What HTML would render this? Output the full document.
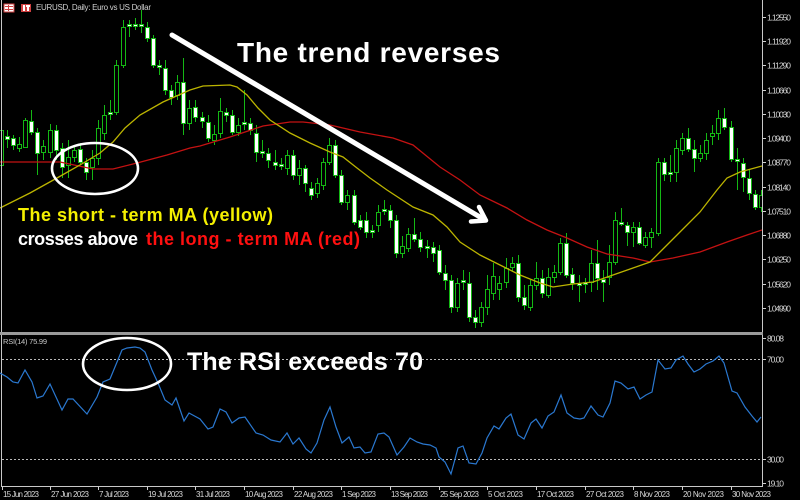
<!DOCTYPE html>
<html><head><meta charset="utf-8">
<style>
html,body{margin:0;padding:0;background:#000;width:800px;height:500px;overflow:hidden}
svg{display:block}
text{font-family:"Liberation Sans",sans-serif}
</style></head><body>
<svg id="c" width="800" height="500" viewBox="0 0 800 500" xmlns="http://www.w3.org/2000/svg">
<defs>
<clipPath id="mainClip"><rect x="0" y="0" width="762" height="332"/></clipPath>
<clipPath id="rsiClip"><rect x="0" y="335" width="762" height="151"/></clipPath>
</defs>
<rect width="800" height="500" fill="#000"/>

<!-- candles -->
<g clip-path="url(#mainClip)">
<g id="candles" stroke="#14b814" stroke-width="1" shape-rendering="crispEdges"></g>
<!-- long MA red -->
<polyline fill="none" stroke="#c41212" stroke-width="1.3" points="0,162 60,162 93,169 113,169 137,163 167,155 190,148 200,146 230,137 263,126 290,122 303,122 330,125 360,132 393,138 413,145 440,167 460,180 480,195 507,208 527,220 547,230 567,238 587,247 607,254 633,258 650,262 673,258 700,252 727,242 747,235 762,230"/>
<!-- short MA yellow -->
<polyline fill="none" stroke="#bcb400" stroke-width="1.3" points="0,208 30,193 57,178 80,165 100,153 113,142 125,128 140,115 163,102 190,90 203,86 230,85 237,87 247,95 258,108 270,120 290,133 310,143 330,152 343,157 357,168 370,178 387,190 413,207 433,215 447,227 460,242 480,255 500,265 520,275 540,283 553,287 573,284 593,282 613,275 633,268 650,262 660,252 680,232 700,212 717,190 727,178 740,172 762,166"/>
</g>

<!-- frame -->
<g stroke="#c8c8c8" stroke-width="1" shape-rendering="crispEdges" fill="none">
<line x1="1.5" y1="0" x2="1.5" y2="487"/>
<line x1="762.5" y1="0" x2="762.5" y2="487"/>
<line x1="1" y1="486.5" x2="763" y2="486.5"/>
</g>
<rect x="0" y="332" width="763" height="3" fill="#9a9a9a"/>

<!-- RSI levels -->
<g stroke="#b8b8b8" stroke-width="1" stroke-dasharray="2,2" shape-rendering="crispEdges">
<line x1="2" y1="359.5" x2="762" y2="359.5"/>
<line x1="2" y1="459.5" x2="762" y2="459.5"/>
</g>
<!-- RSI line -->
<polyline clip-path="url(#rsiClip)" fill="none" stroke="#2a78d0" stroke-width="1.2" points="0,373 7,377 13,382 18,383 25,370 32,382 37,398 43,396 50,384 62,410 68,399 73,399 87,414 97,397 103,382 110,379 122,350 127,348 135,347 140,348 145,352 152,370 158,383 165,400 172,405 176,398 184,421 189,413 200,419 208,429 213,427 220,409 226,412 232,423 239,418 245,417 256,433 263,435 271,440 280,442 287,433 293,444 299,438 306,449 311,453 317,443 324,420 330,407 336,427 342,443 349,437 354,448 360,447 365,453 371,452 378,434 384,433 389,437 397,455 404,447 410,438 417,442 423,444 430,445 436,448 439,457 445,462 451,474 458,448 463,446 469,463 476,464 482,453 487,438 494,426 499,429 506,418 511,414 518,435 524,439 531,423 536,419 542,428 548,416 554,412 561,395 567,413 574,418 580,419 584,418 591,406 598,415 603,417 610,403 615,381 621,383 628,389 634,387 640,399 646,395 652,392 658,360 665,369 671,368 676,360 683,356 688,364 694,372 700,369 706,364 713,361 719,356 724,363 732,391 737,393 745,407 752,416 757,422 761,417"/>

<!-- header -->
<rect x="4" y="4" width="10" height="8" fill="#fff" stroke="#d04040" stroke-width="1"/>
<rect x="5" y="6" width="8" height="1" fill="#d04040"/>
<rect x="5" y="9" width="8" height="1" fill="#d04040"/>
<rect x="8" y="5" width="1" height="6" fill="#d04040"/>
<rect x="21" y="4" width="10" height="8" fill="#d04040"/>
<rect x="23" y="5" width="2" height="6" fill="#fff"/>
<rect x="26" y="5" width="4" height="2" fill="#fff"/>
<rect x="27" y="6" width="2" height="5" fill="#fff"/>
<text x="36" y="10" font-size="8" fill="#d0d0d0" textLength="115">EURUSD, Daily:  Euro vs US Dollar</text>
<text x="3" y="344" font-size="7.5" fill="#c8c8c8" textLength="44">RSI(14) 75.99</text>

<!-- price axis -->
<g id="paxis" font-size="8.5" fill="#d8d8d8"></g>

<!-- date axis -->
<g id="daxis" font-size="8" fill="#d8d8d8"></g>

<!-- annotations -->
<line x1="172" y1="35" x2="485" y2="220" stroke="#fff" stroke-width="5" stroke-linecap="round"/>
<polyline points="471,221.5 486,220.5 479,207" fill="none" stroke="#fff" stroke-width="4.5" stroke-linecap="round" stroke-linejoin="round"/>
<ellipse cx="95" cy="168.5" rx="43" ry="25.5" fill="none" stroke="#fff" stroke-width="2.6"/>
<ellipse cx="127" cy="364" rx="44" ry="26" fill="none" stroke="#fff" stroke-width="2.6"/>

<text x="237" y="62" font-size="28" font-weight="bold" fill="#fff" textLength="263">The trend reverses</text>
<text x="18" y="221" font-size="18" font-weight="bold" fill="#f5f000" textLength="255">The short - term MA (yellow)</text>
<text x="18" y="245" font-size="18" font-weight="bold" fill="#fff" textLength="120">crosses above</text>
<text x="146" y="245" font-size="18" font-weight="bold" fill="#ff1010" textLength="214">the long - term MA (red)</text>
<text x="187" y="370" font-size="25" font-weight="bold" fill="#fff" textLength="236">The RSI exceeds 70</text>
</svg>
<script>
(function(){
var C=[[130,165,123,183,1],[136,139,130,148,0],[138,145,135,150,0],[144,148,137,152,1],[120,147,118,148,1],[121,132,110,135,0],[132,153,128,175,0],[146,152,140,160,1],[130,152,124,158,1],[130,150,125,160,0],
[148,167,143,178,0],[157,165,140,178,1],[150,157,145,162,1],[149,162,143,165,0],[162,172,158,180,0],[158,167,150,180,1],[128,158,120,165,1],[115,133,105,140,1],[112,114,100,120,2],[65,112,60,115,1],
[27,65,20,68,1],[24,26,20,37,2],[24,26,18,30,2],[24,26,10,33,2],[27,38,22,42,0],[38,65,35,68,0],[65,67,60,75,2],[68,90,60,95,0],[90,97,85,105,0],[82,95,75,100,1],
[82,123,58,135,0],[108,123,100,130,1],[107,117,100,122,0],[117,121,112,128,0],[122,138,115,142,0],[134,140,125,145,1],[111,133,98,138,1],[112,115,108,122,0],[115,132,110,135,0],[125,132,118,136,1],
[122,124,90,130,2],[123,130,118,135,0],[133,152,125,162,0],[151,153,140,158,2],[153,160,148,168,0],[162,165,150,170,0],[164,166,158,170,2],[155,168,150,175,1],[155,175,150,180,0],[168,175,160,185,1],
[168,183,165,192,0],[188,195,182,200,0],[183,193,178,198,1],[162,185,158,190,1],[145,162,138,165,1],[145,175,140,178,0],[175,202,170,205,0],[195,202,190,210,1],[195,222,190,225,0],[220,227,215,230,0],
[220,232,212,238,0],[230,232,225,238,2],[212,225,205,232,1],[209,211,200,215,2],[210,220,205,228,0],[220,253,215,258,0],[246,253,236,258,1],[234,248,228,252,1],[234,239,218,242,0],[239,247,232,252,0],
[246,248,240,258,2],[247,253,242,262,0],[250,272,245,275,0],[273,280,265,290,0],[280,307,275,313,0],[283,307,278,312,1],[280,282,270,290,2],[283,317,272,322,0],[317,322,310,328,0],[307,322,302,327,1],
[289,307,275,315,1],[276,293,263,300,1],[283,289,276,300,1],[268,282,258,288,1],[263,267,257,272,1],[263,297,255,302,0],[297,305,285,310,0],[285,307,280,311,1],[278,285,262,290,1],[278,293,270,298,0],
[277,295,268,298,1],[272,277,265,283,1],[243,272,238,275,1],[243,275,233,278,0],[274,283,268,290,0],[283,285,275,302,2],[282,284,278,293,2],[263,282,250,292,1],[263,278,240,290,0],[279,282,270,302,0],
[262,277,245,285,1],[220,262,212,265,1],[222,224,208,226,2],[225,232,222,246,0],[227,232,222,247,1],[227,243,222,245,0],[237,245,232,248,1],[232,237,228,248,1],[162,233,158,236,1],[162,174,158,181,0],
[172,174,155,182,2],[148,172,140,182,1],[138,150,133,155,1],[138,149,128,152,0],[149,158,140,172,0],[153,158,145,162,1],[140,153,133,160,1],[133,136,125,145,1],[118,133,110,140,1],[118,127,108,130,0],
[127,159,121,162,0],[159,161,148,190,2],[163,177,158,192,0],[178,193,170,200,0],[194,207,190,210,0],[195,207,190,212,1]];
var s='';
for(var i=0;i<C.length;i++){
 var d=C[i],x=Math.round(0.9+6.08*i);
 s+='<line x1="'+(x+0.5)+'" y1="'+d[2]+'" x2="'+(x+0.5)+'" y2="'+d[3]+'"/>';
 var h=Math.max(d[1]-d[0],1);
 s+='<rect x="'+(x-1.5)+'" y="'+(d[0]+0.5)+'" width="4" height="'+h+'" fill="'+(d[4]==1?'#000':'#fff')+'"/>';
}
document.getElementById('candles').innerHTML=s;

var P=['1.12550','1.11920','1.11290','1.10660','1.10030','1.09400','1.08770','1.08140','1.07510','1.06880','1.06250','1.05620','1.04990'];
var a='';
for(var k=0;k<P.length;k++){
 var y=Math.round(16.7+24.27*k);
 a+='<rect x="763" y="'+y+'" width="3" height="1" fill="#d0d0d0"/>';
 a+='<text x="767" y="'+(y+3.5)+'" textLength="24">'+P[k]+'</text>';
}
var R=[['80.08',338],['70.00',359],['30.00',459],['19.10',483]];
for(var k=0;k<R.length;k++){
 a+='<rect x="763" y="'+R[k][1]+'" width="3" height="1" fill="#d0d0d0"/>';
 a+='<text x="767" y="'+(R[k][1]+3.5)+'" textLength="17">'+R[k][0]+'</text>';
}
document.getElementById('paxis').innerHTML=a;

var D=[['15 Jun 2023',36],['27 Jun 2023',38],['7 Jul 2023',30],['19 Jul 2023',35],['31 Jul 2023',34],['10 Aug 2023',38],['22 Aug 2023',39],['1 Sep 2023',34],['13 Sep 2023',37],['25 Sep 2023',39],['5 Oct 2023',35],['17 Oct 2023',37],['27 Oct 2023',38],['8 Nov 2023',36],['20 Nov 2023',41],['30 Nov 2023',39]];
var b='';
for(var k=0;k<D.length;k++){
 var x=Math.round(0.9+6.08*8*k);
 if(x<2)x=2;
 b+='<rect x="'+x+'" y="487" width="1" height="3" fill="#d0d0d0"/>';
 b+='<text x="'+(x+1)+'" y="497" textLength="'+D[k][1]+'">'+D[k][0]+'</text>';
}
document.getElementById('daxis').innerHTML=b;
})();
</script>
</body></html>
